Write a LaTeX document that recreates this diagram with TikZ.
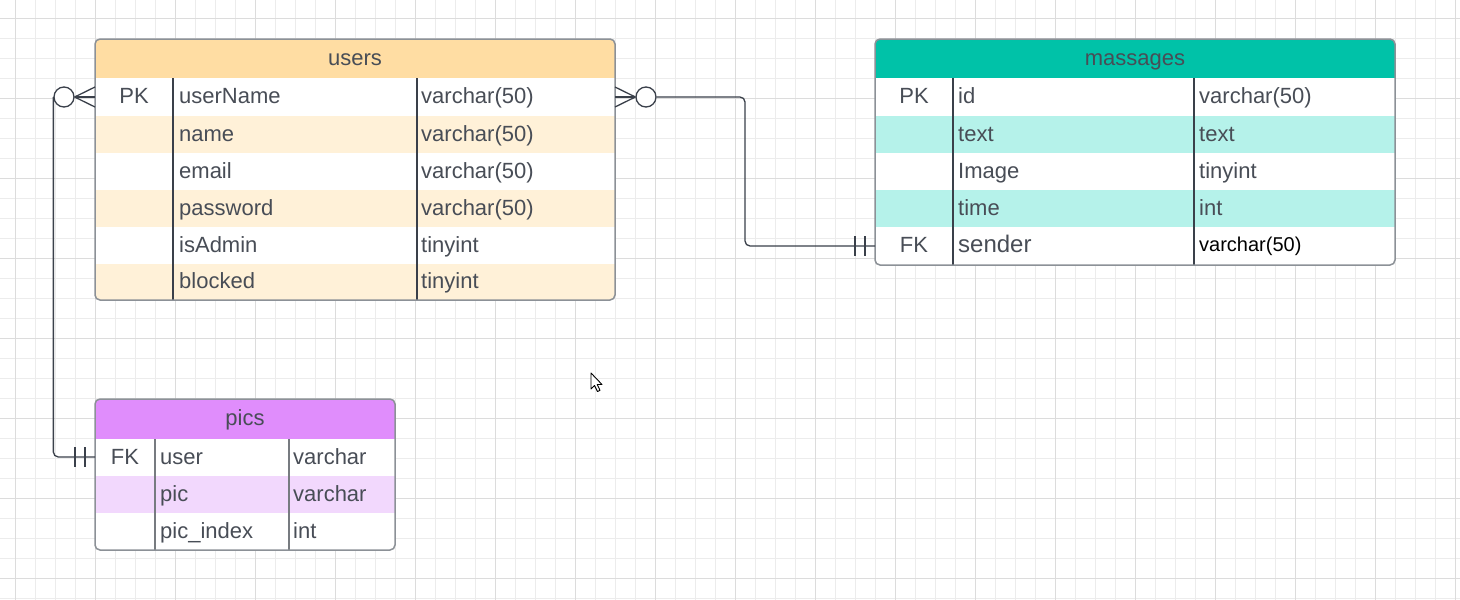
\documentclass[tikz,border=0pt]{standalone}
\usepackage{fontspec}
\setmainfont{Liberation Sans}
\usetikzlibrary{calc}

\definecolor{gridminor}{RGB}{236,236,236}
\definecolor{gridmajor}{RGB}{220,220,220}
\definecolor{txt}{RGB}{72,77,86}
\definecolor{edge}{RGB}{140,145,151}
\definecolor{ink}{RGB}{58,64,74}
\definecolor{usershead}{RGB}{255,221,163}
\definecolor{userslight}{RGB}{255,241,216}
\definecolor{msghead}{RGB}{0,194,168}
\definecolor{msglight}{RGB}{181,242,234}
\definecolor{picshead}{RGB}{224,141,252}
\definecolor{picslight}{RGB}{242,216,253}

\tikzset{
  tablebox/.style={draw=edge, line width=1.5pt, rounded corners=5pt, inner sep=0pt},
  colline/.style={draw=ink, line width=1.2pt},
  colpale/.style={draw=edge!85!black, line width=1.2pt},
  cell/.style={inner sep=0pt, text height=16pt, text depth=0pt, text=txt,
               font=\fontsize{22}{26}\selectfont},
  conn/.style={draw=ink, line width=1.3pt},
  optcircle/.style={circle, draw=ink, line width=1.3pt, fill=white,
                    minimum size=20pt, inner sep=0pt},
}

\begin{document}
\begin{tikzpicture}[x=1pt, y=-1pt]
\useasboundingbox (0,0) rectangle (1460,600);
\fill[white] (0,0) rectangle (1460,600);

% background grid
\foreach \x in {15,35,...,1455} \draw[gridminor, line width=1pt] (\x,0) -- (\x,600);
\foreach \y in {18,38,...,598} \draw[gridminor, line width=1pt] (0,\y) -- (1460,\y);
\foreach \x in {15,95,...,1455} \draw[gridmajor, line width=1pt] (\x,0) -- (\x,600);
\foreach \y in {18,98,...,598} \draw[gridmajor, line width=1pt] (0,\y) -- (1460,\y);

% ---------------- users ----------------
\begin{scope}
  \clip[rounded corners=5pt] (95,39) rectangle (615,300);
  \fill[white] (95,39) rectangle (615,300);
  \fill[usershead] (95,39) rectangle (615,78);
  \fill[userslight] (95,116) rectangle (615,153);
  \fill[userslight] (95,190) rectangle (615,227);
  \fill[userslight] (95,264) rectangle (615,300);
\end{scope}
\draw[colline] (173,78) -- (173,300);
\draw[colline] (417,78) -- (417,300);
\node[tablebox, minimum width=520pt, minimum height=261pt] (users) at (355,169.5) {};
\node[cell] (users-title) at (355,57) {users};
\node[cell] (u-k1) at (134,95.5) {PK};
\node[cell, anchor=west] (u-n1) at (179,95.5) {userName};
\node[cell, anchor=west] (u-t1) at (421,95.5) {varchar(50)};
\node[cell, anchor=west] (u-n2) at (179,133) {name};
\node[cell, anchor=west] (u-t2) at (421,133) {varchar(50)};
\node[cell, anchor=west] (u-n3) at (179,170) {email};
\node[cell, anchor=west] (u-t3) at (421,170) {varchar(50)};
\node[cell, anchor=west] (u-n4) at (179,207) {password};
\node[cell, anchor=west] (u-t4) at (421,207) {varchar(50)};
\node[cell, anchor=west] (u-n5) at (179,244) {isAdmin};
\node[cell, anchor=west] (u-t5) at (421,244) {tinyint};
\node[cell, anchor=west] (u-n6) at (179,280.5) {blocked};
\node[cell, anchor=west] (u-t6) at (421,280.5) {tinyint};

% ---------------- massages ----------------
\begin{scope}
  \clip[rounded corners=5pt] (875,39) rectangle (1395,265);
  \fill[white] (875,39) rectangle (1395,265);
  \fill[msghead] (875,39) rectangle (1395,78);
  \fill[msglight] (875,116) rectangle (1395,153);
  \fill[msglight] (875,190) rectangle (1395,227);
\end{scope}
\draw[colline] (953,78) -- (953,265);
\draw[colline] (1194,78) -- (1194,265);
\node[tablebox, minimum width=520pt, minimum height=226pt] (msg) at (1135,152) {};
\node[cell] (msg-title) at (1135,57) {massages};
\node[cell] (m-k1) at (914,95.5) {PK};
\node[cell, anchor=west] (m-n1) at (958,95.5) {id};
\node[cell, anchor=west] (m-t1) at (1199,95.5) {varchar(50)};
\node[cell, anchor=west] (m-n2) at (958,133) {text};
\node[cell, anchor=west] (m-t2) at (1199,133) {text};
\node[cell, anchor=west] (m-n3) at (958,170) {Image};
\node[cell, anchor=west] (m-t3) at (1199,170) {tinyint};
\node[cell, anchor=west] (m-n4) at (958,207) {time};
\node[cell, anchor=west] (m-t4) at (1199,207) {int};
\node[cell] (m-k5) at (914,244) {FK};
\node[cell, anchor=west, font=\fontsize{24}{28}\selectfont, text height=17pt] (m-n5) at (958,244) {sender};
\node[cell, anchor=west, text=black, font=\fontsize{20}{24}\selectfont, text height=14.5pt] (m-t5) at (1199,244) {varchar(50)};

% ---------------- pics ----------------
\begin{scope}
  \clip[rounded corners=5pt] (95,399) rectangle (395,550);
  \fill[white] (95,399) rectangle (395,550);
  \fill[picshead] (95,399) rectangle (395,439);
  \fill[picslight] (95,476) rectangle (395,513);
\end{scope}
\draw[colpale] (155,439) -- (155,550);
\draw[colpale] (289,439) -- (289,550);
\node[tablebox, minimum width=300pt, minimum height=151pt] (pics) at (245,474.5) {};
\node[cell] (pics-title) at (245,417) {pics};
\node[cell] (p-k1) at (125,456) {FK};
\node[cell, anchor=west] (p-n1) at (160,456) {user};
\node[cell, anchor=west] (p-t1) at (293,456) {varchar};
\node[cell, anchor=west] (p-n2) at (160,493) {pic};
\node[cell, anchor=west] (p-t2) at (293,493) {varchar};
\node[cell, anchor=west] (p-n3) at (160,530) {pic\_index};
\node[cell, anchor=west] (p-t3) at (293,530) {int};

% ---------------- relationships ----------------
\coordinate (users-pk-w) at (95,97);
\coordinate (users-pk-e) at (615,97);
\coordinate (pics-fk-w) at (95,457);
\coordinate (msg-fk-w) at (875,246);
\coordinate (bend) at (745,97);

% users (zero or many) -- pics (one and only one)
\node[optcircle] (c-left) at (64,97) {};
\draw[conn] (c-left.east) -- ($(users-pk-w)+(0,-10)$);
\draw[conn] (c-left.east) -- (users-pk-w);
\draw[conn] (c-left.east) -- ($(users-pk-w)+(0,10)$);
\draw[conn, rounded corners=5pt] (c-left.west) -- (c-left.west |- pics-fk-w) -- (pics-fk-w);
\draw[conn] ($(pics-fk-w)+(-20,-10)$) -- ++(0,20);
\draw[conn] ($(pics-fk-w)+(-10,-10)$) -- ++(0,20);

% users (zero or many) -- massages (one and only one)
\node[optcircle] (c-right) at (646,97) {};
\draw[conn] (c-right.west) -- ($(users-pk-e)+(0,-10)$);
\draw[conn] (c-right.west) -- (users-pk-e);
\draw[conn] (c-right.west) -- ($(users-pk-e)+(0,10)$);
\draw[conn, rounded corners=5pt] (c-right.east) -- (bend) |- (msg-fk-w);
\draw[conn] ($(msg-fk-w)+(-20,-10)$) -- ++(0,20);
\draw[conn] ($(msg-fk-w)+(-10,-10)$) -- ++(0,20);

% mouse pointer
\draw[black, line width=0.9pt, fill=white, line join=round]
  (591,373) -- (591,389) -- (594.5,385.5) -- (597.5,391.5) -- (600,390.3)
  -- (597.2,384.5) -- (602,384.5) -- cycle;
\end{tikzpicture}
\end{document}
